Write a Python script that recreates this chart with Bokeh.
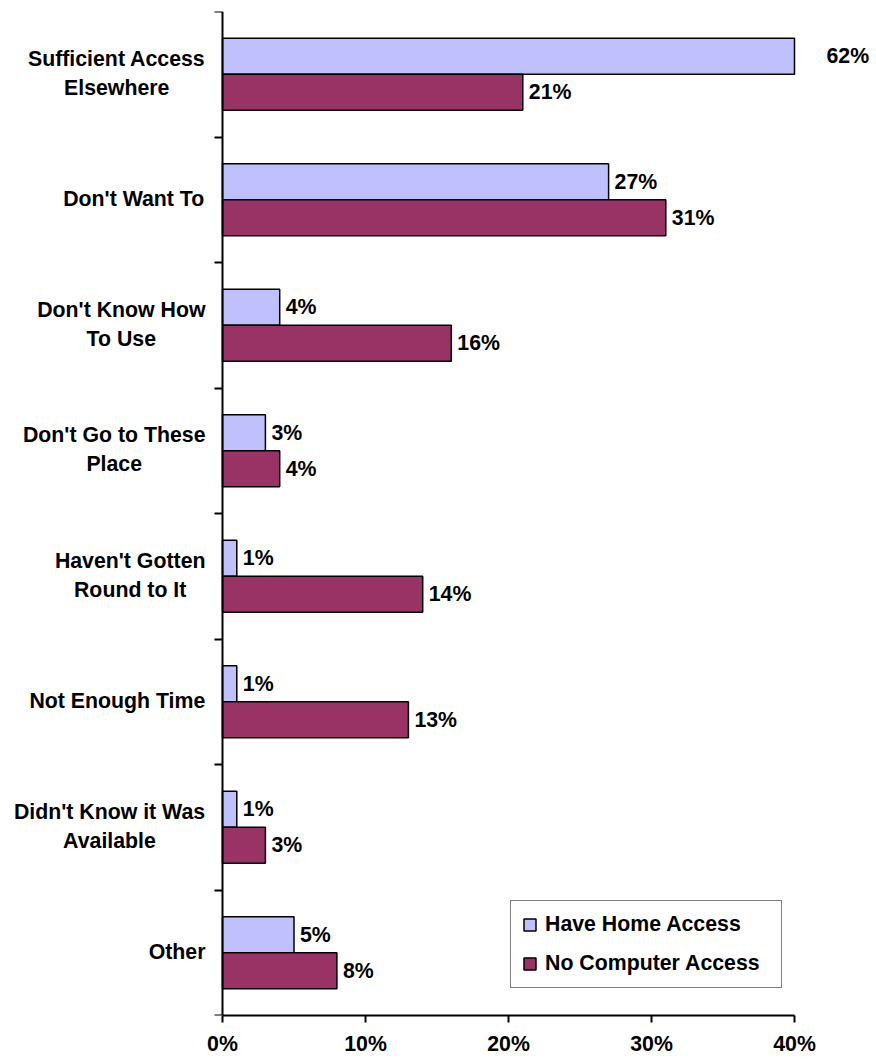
from bokeh.plotting import figure
from bokeh.models import (Range1d, LinearAxis, FixedTicker, PrintfTickFormatter,
                          ColumnDataSource, Label, Legend, LegendItem)
from bokeh.embed import file_html
from bokeh.resources import INLINE

categories = ["Sufficient Access\nElsewhere", "Don't Want To", "Don't Know How\nTo Use",
              "Don't Go to These\nPlace", "Haven't Gotten\nRound to It", "Not Enough Time",
              "Didn't Know it Was\nAvailable", "Other"]
home_access = [62, 27, 4, 3, 1, 1, 1, 5]
no_computer = [21, 31, 16, 4, 14, 13, 3, 8]
x_ticks = [0, 10, 20, 30, 40]
series_names = ["Have Home Access", "No Computer Access"]

LIGHT = "#C0C0FF"
DARK = "#993366"
FONT = "Liberation Sans"
FS = 21.3
XMAX = 40
BAR_H = 0.287

# layout (pixels)
W, H = 874, 1058
BORDER_R = 2
FRAME_R = W - BORDER_R
PX0, PXMAX = 222, 794          # screen x of 0% and 40%

# Arial/Liberation Sans Bold advance widths (per 1000 em) to centre multi-line labels
_W = {" ": 278, "'": 238, "A": 722, "D": 722, "E": 667, "G": 778, "H": 722, "I": 278,
      "K": 722, "N": 722, "O": 778, "P": 667, "R": 722, "S": 667, "T": 611, "U": 722,
      "W": 944, "a": 556, "b": 611, "c": 556, "d": 611, "e": 556, "f": 333, "g": 611,
      "h": 611, "i": 278, "k": 556, "l": 278, "m": 889, "n": 611, "o": 611, "p": 611,
      "r": 389, "s": 556, "t": 333, "u": 611, "v": 556, "w": 778, "y": 556}


def text_width(s):
    return sum(_W.get(ch, 600) for ch in s) * FS / 1000.0


n = len(categories)
centers = [i + 0.5 for i in range(n)]

upp = XMAX / (PXMAX - PX0)     # data units per pixel
x_start = -PX0 * upp
x_end = XMAX + (FRAME_R - PXMAX) * upp

p = figure(width=W, height=H, output_backend="svg", toolbar_location=None,
           x_range=Range1d(x_start, x_end), y_range=Range1d(n, 0),
           x_axis_location=None, y_axis_location=None,
           min_border_left=0, min_border_right=BORDER_R, min_border_top=11, min_border_bottom=41)
p.outline_line_color = None
p.xgrid.visible = False
p.ygrid.visible = False
p.background_fill_color = "white"
p.border_fill_color = "white"

src_home = ColumnDataSource(dict(y=[c - BAR_H / 2 for c in centers],
                                 right=[min(v, XMAX) for v in home_access]))
src_no = ColumnDataSource(dict(y=[c + BAR_H / 2 for c in centers],
                               right=[min(v, XMAX) for v in no_computer]))

r1 = p.hbar(y="y", left=0, right="right", height=BAR_H, source=src_home,
            fill_color=LIGHT, line_color="black", line_width=1.5)
r2 = p.hbar(y="y", left=0, right="right", height=BAR_H, source=src_no,
            fill_color=DARK, line_color="black", line_width=1.5)

# data labels
for vals, src in ((home_access, src_home), (no_computer, src_no)):
    for v, y in zip(vals, src.data["y"]):
        p.add_layout(Label(x=min(v, XMAX), y=y, text=f"{v}%",
                           x_offset=6 if v <= XMAX else 32,
                           text_align="left", text_baseline="middle",
                           text_font=FONT, text_font_style="bold",
                           text_font_size=f"{FS}px", text_color="black"))

# category labels (right-aligned block, lines centred)
for c, t in zip(centers, categories):
    w = max(text_width(line) for line in t.split("\n"))
    p.add_layout(Label(x=0, y=c, text=t, x_offset=-(17 + w / 2), y_offset=1,
                       text_align="center", text_baseline="middle",
                       text_font=FONT, text_font_style="bold",
                       text_font_size=f"{FS}px", text_color="black"))

# x axis
xaxis = LinearAxis(ticker=FixedTicker(ticks=x_ticks), formatter=PrintfTickFormatter(format="%d%%"),
                   bounds=(0, XMAX))
xaxis.axis_line_width = 2
xaxis.major_tick_line_width = 2
xaxis.major_tick_out = 7
xaxis.major_tick_in = 0
xaxis.minor_tick_line_color = None
xaxis.major_label_text_font = FONT
xaxis.major_label_text_font_style = "bold"
xaxis.major_label_text_font_size = f"{FS}px"
xaxis.major_label_text_color = "black"
xaxis.major_label_standoff = 9
p.add_layout(xaxis, "below")

# y axis at x = 0: category boundary ticks pointing left
yaxis = LinearAxis(ticker=FixedTicker(ticks=list(range(n + 1))), bounds=(0, n),
                   fixed_location=0)
yaxis.axis_line_width = 2
yaxis.major_tick_line_width = 2
yaxis.major_tick_out = 0
yaxis.major_tick_in = 8
yaxis.minor_tick_line_color = None
yaxis.major_label_text_font_size = "0px"
yaxis.major_label_standoff = 0
yaxis.major_label_overrides = {i: "" for i in range(n + 1)}
p.add_layout(yaxis, "right")

legend = Legend(items=[LegendItem(label=series_names[0], renderers=[r1]),
                       LegendItem(label=series_names[1], renderers=[r2])],
                location=(510, 27))
legend.border_line_color = "black"
legend.border_line_width = 1.5
legend.background_fill_color = "white"
legend.background_fill_alpha = 1
legend.label_text_font = FONT
legend.label_text_font_style = "bold"
legend.label_text_font_size = f"{FS}px"
legend.label_text_color = "black"
legend.glyph_width = 15
legend.glyph_height = 15
legend.label_standoff = 8
legend.label_height = 24
legend.label_width = 225
legend.padding = 11
legend.spacing = 14
p.add_layout(legend, "center")

open("out.html", "w").write(file_html(p, INLINE))
